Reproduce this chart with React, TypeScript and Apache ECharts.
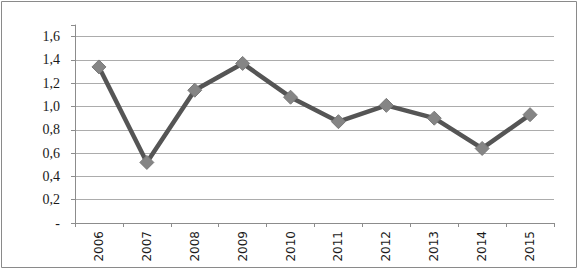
import React, { useEffect, useRef } from "react";
import * as echarts from "echarts";

const categories = ["2006", "2007", "2008", "2009", "2010", "2011", "2012", "2013", "2014", "2015"];
const values = [1.34, 0.52, 1.14, 1.37, 1.08, 0.87, 1.01, 0.9, 0.64, 0.93];
const yTicks = [0, 0.2, 0.4, 0.6, 0.8, 1.0, 1.2, 1.4, 1.6];

export default function App() {
  const ref = useRef<HTMLDivElement>(null);
  useEffect(() => {
    const chart = echarts.init(ref.current!, null, { renderer: "svg" });
    const gridColors = yTicks.map(() => "#acacac").concat(["transparent"]);
    chart.setOption({
      animation: false,
      backgroundColor: "#fff",
      graphic: [
        {
          type: "rect",
          shape: { x: 1.5, y: 1.5, width: 575, height: 266 },
          style: { fill: "none", stroke: "#8a8a8a", lineWidth: 1 },
          silent: true,
        },
      ],
      grid: { left: 75, right: 25, top: 25, bottom: 48, containLabel: false },
      xAxis: {
        type: "category",
        data: categories,
        boundaryGap: true,
        axisLine: { lineStyle: { color: "#8c8c8c", width: 1 } },
        axisTick: { show: true, length: 4, inside: false, alignWithLabel: false, lineStyle: { color: "#8c8c8c" } },
        axisLabel: {
          rotate: 90,
          fontFamily: "DejaVu Sans",
          fontSize: 12,
          color: "#1a1a1a",
          margin: 8,
          interval: 0,
        },
        splitLine: { show: false },
      },
      yAxis: {
        type: "value",
        min: 0,
        max: 1.7,
        interval: 0.2,
        axisLine: { show: true, lineStyle: { color: "#8c8c8c", width: 1 } },
        axisTick: { show: true, length: 4, lineStyle: { color: "#8c8c8c" } },
        axisLabel: {
          fontFamily: "Liberation Serif",
          fontSize: 14,
          color: "#1a1a1a",
          margin: 15,
          formatter: (v: number) => {
            if (v > 1.65) return "";
            if (Math.abs(v) < 1e-9) return "-";
            return v.toFixed(1).replace(".", ",");
          },
        },
        splitLine: { show: true, lineStyle: { color: gridColors, width: 1 } },
      },
      series: [
        {
          type: "line",
          data: values,
          symbol: "diamond",
          symbolSize: 14,
          lineStyle: { color: "#555555", width: 4.5 },
          itemStyle: { color: "#858585", borderColor: "#7a7a7a", borderWidth: 1 },
        },
      ],
    });
    return () => chart.dispose();
  }, []);
  return (
    <div
      ref={ref}
      style={{ position: "fixed", left: 0, top: 0, width: 579, height: 271 }}
    />
  );
}
